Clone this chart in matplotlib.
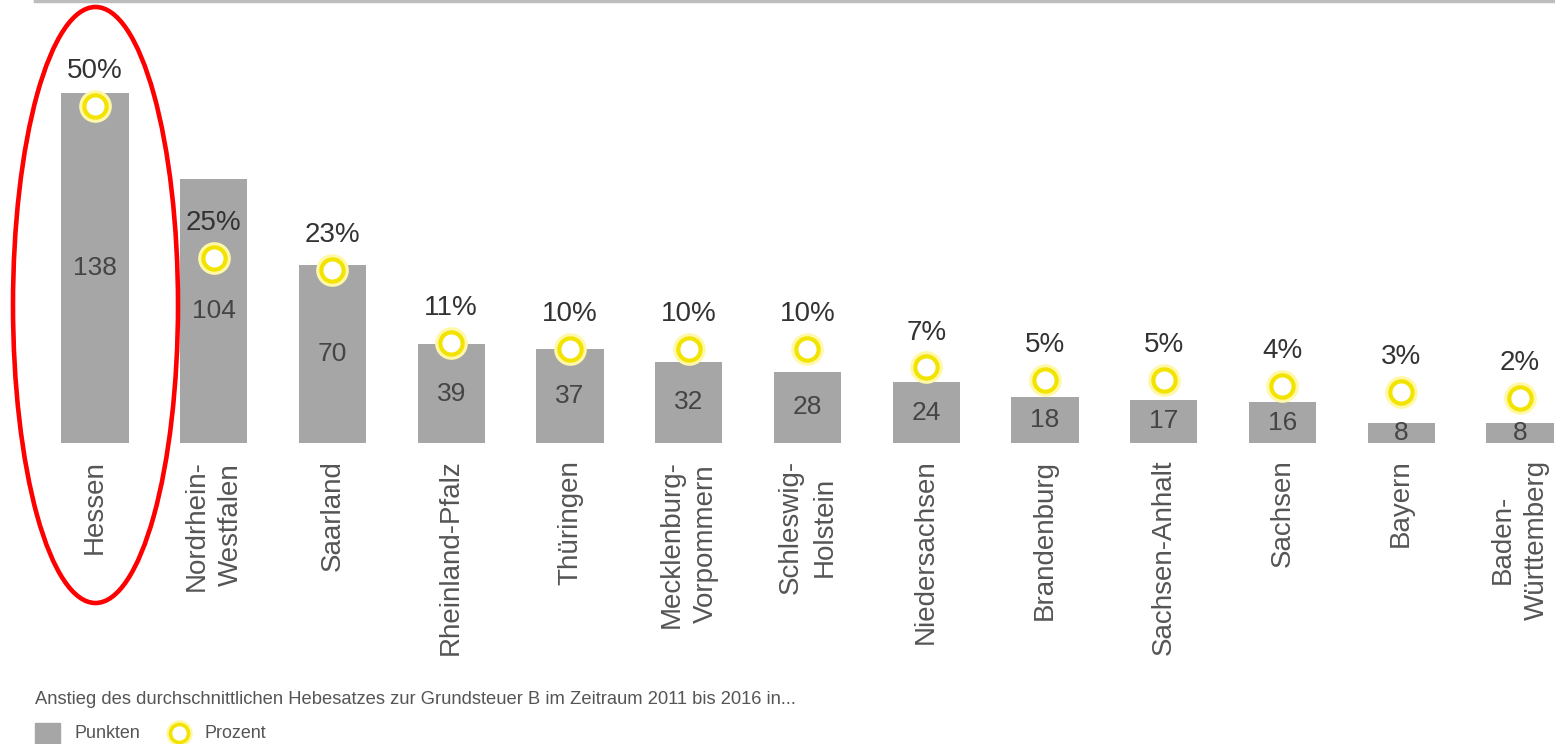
import matplotlib
matplotlib.use("Agg")
import matplotlib.pyplot as plt
from matplotlib.patches import Ellipse, Rectangle
from matplotlib.lines import Line2D

plt.rcParams['font.family'] = ['Liberation Sans', 'DejaVu Sans']

# Data: increase of the average Grundsteuer B rate 2011-2016 per federal state
states = ["Hessen", "Nordrhein-\nWestfalen", "Saarland", "Rheinland-Pfalz", "Thüringen",
          "Mecklenburg-\nVorpommern", "Schleswig-\nHolstein", "Niedersachsen", "Brandenburg",
          "Sachsen-Anhalt", "Sachsen", "Bayern", "Baden-\nWürttemberg"]
punkte = [138, 104, 70, 39, 37, 32, 28, 24, 18, 17, 16, 8, 8]
prozent = [50, 25, 23, 11, 10, 10, 10, 7, 5, 5, 4, 3, 2]

caption = "Anstieg des durchschnittlichen Hebesatzes zur Grundsteuer B im Zeitraum 2011 bis 2016 in..."
legend_labels = ["Punkten", "Prozent"]

W, H = 1555, 744
fig = plt.figure(figsize=(W / 100, H / 100), dpi=100)
fig.patch.set_facecolor("white")

BAR_C = "#a6a6a6"
RING_C = "#f2e400"
GLOW_C = "#fff8a8"

left, right = 35.6, 1555
top, base = 2, 443
ax = fig.add_axes([left / W, (H - base) / H, (right - left) / W, (base - top) / H])
x = list(range(len(states)))
ax.set_xlim(-0.5, 12 + (1555 - 1520) / 118.75)
ax.set_ylim(0, 173.9)
bars = ax.bar(x, punkte, width=0.565, color=BAR_C, zorder=2)
ax.bar_label(bars, labels=[str(v) for v in punkte], label_type="center",
             fontsize=19, color="#454545")
for s in ax.spines.values():
    s.set_visible(False)
ax.set_yticks([])
ax.set_xticks(x)
ax.set_xticklabels(states, rotation=90, va="top", ha="center", multialignment="center",
                   fontsize=20, color="#555555", linespacing=1.4)
ax.tick_params(axis="x", length=0, pad=12)

ax2 = ax.twinx()
ax2.set_ylim(-5.43, 67.1)
ax2.set_yticks([])
for s in ax2.spines.values():
    s.set_visible(False)
# soft glow behind rings
ax2.plot(x, prozent, linestyle="none", marker="o", ms=18.5, mfc="white",
         mec=GLOW_C, mew=5, zorder=3)
ax2.plot(x, prozent, linestyle="none", marker="o", ms=16, mfc="white",
         mec=RING_C, mew=3, zorder=4)
for i, p in zip(x, prozent):
    ax2.annotate(f"{p}%", (i, p), xytext=(0, 25), textcoords="offset points",
                 ha="center", va="center", fontsize=20, color="#333333")

# overlay in pixel coordinates: frame line, highlight ellipse, caption and legend
ov = fig.add_axes([0, 0, 1, 1], zorder=10)
ov.set_xlim(0, W)
ov.set_ylim(H, 0)
ov.axis("off")
ov.patch.set_alpha(0)
ov.add_line(Line2D([35, 1555], [1, 1], color="#bdbdbd", lw=2.5))
ov.add_patch(Ellipse((95.5, 305), 165, 596, fill=False, ec="#ff0000", lw=3.3))
ov.text(35, 700, caption, fontsize=13.2, color="#555555", va="center", ha="left")
ov.add_patch(Rectangle((35, 723), 25, 24, color=BAR_C))
ov.text(75, 734, legend_labels[0], fontsize=12.9, color="#555555", va="center", ha="left")
ov.plot([179], [733], marker="o", ms=15, mfc="white", mec=GLOW_C, mew=4)
ov.plot([179], [733], marker="o", ms=13, mfc="white", mec=RING_C, mew=2.6)
ov.text(205, 734, legend_labels[1], fontsize=12.9, color="#555555", va="center", ha="left")

fig.savefig("out.png", dpi=100, facecolor="white")
